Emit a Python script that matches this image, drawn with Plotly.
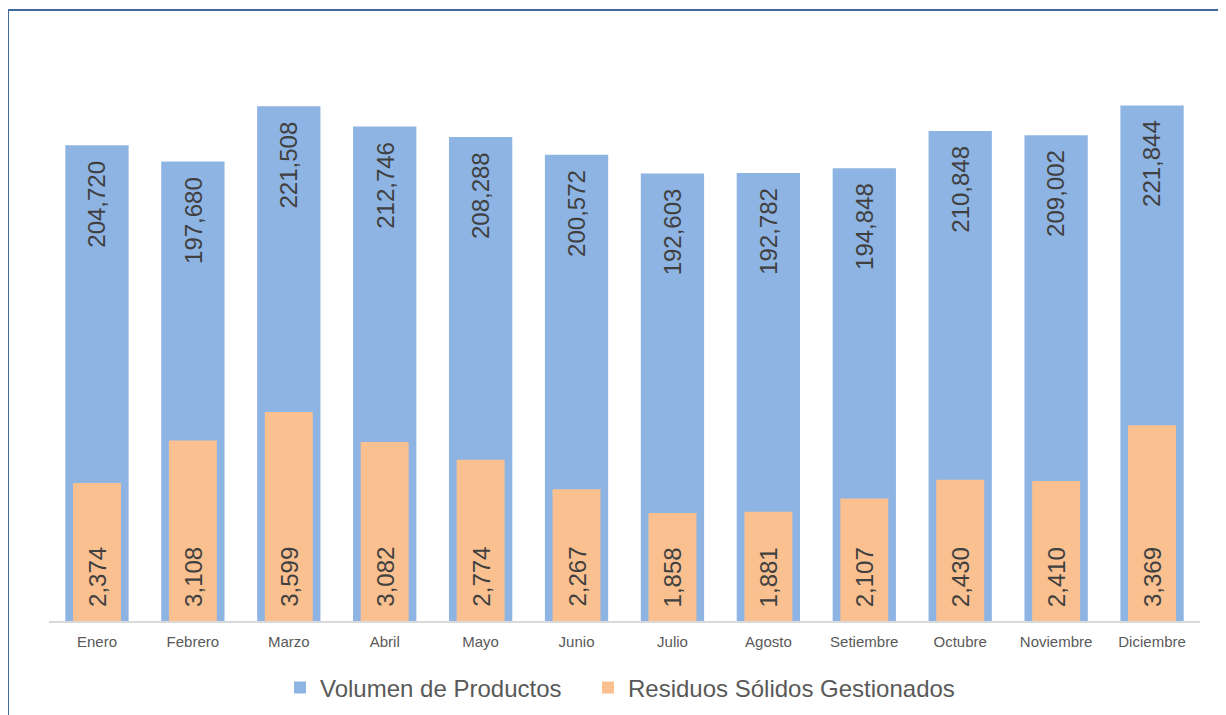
import plotly.graph_objects as go

months = ["Enero", "Febrero", "Marzo", "Abril", "Mayo", "Junio", "Julio",
          "Agosto", "Setiembre", "Octubre", "Noviembre", "Diciembre"]
volumen = [204720, 197680, 221508, 212746, 208288, 200572, 192603,
           192782, 194848, 210848, 209002, 221844]
residuos = [2374, 3108, 3599, 3082, 2774, 2267, 1858, 1881, 2107, 2430, 2410, 3369]

FONT = "Liberation Sans, Arial, sans-serif"
BLUE = "#8eb4e3"
ORANGE = "#fac090"

fig = go.Figure()
fig.add_trace(go.Bar(x=months, y=volumen, name="Volumen de Productos",
                     marker=dict(color=BLUE, line=dict(width=0)),
                     width=0.66, yaxis="y", hoverinfo="x+y", legend="legend"))
fig.add_trace(go.Bar(x=months, y=residuos, name="Residuos Sólidos Gestionados",
                     marker=dict(color=ORANGE, line=dict(width=0)),
                     width=0.5, yaxis="y2", hoverinfo="x+y", legend="legend2"))

annotations = []
for m, v in zip(months, volumen):
    annotations.append(dict(x=m, y=v, xref="x", yref="y", text=f"{v:,}",
                            textangle=-90, showarrow=False, yanchor="top",
                            xanchor="center", yshift=-13,
                            font=dict(family=FONT, size=24, color="#404040")))
for m, v in zip(months, residuos):
    annotations.append(dict(x=m, y=0, xref="x", yref="y2", text=f"{v:,}",
                            textangle=-90, showarrow=False, yanchor="bottom",
                            xanchor="center", yshift=12,
                            font=dict(family=FONT, size=24, color="#404040")))

# page has 8px body margin: figure origin is at (8, 8) in the screenshot
OFF = 8
W, H = 1226 - OFF, 715 - OFF
PL, PR, PT, PB = 49, 1200, 40, 621  # plot area in screenshot pixels
L, R, T, B = PL - OFF, 1226 - PR, PT - OFF, 715 - PB
pw, ph = PR - PL, PB - PT

def px(x):
    return (x - PL) / pw

def py(y):
    return (PB - y) / ph

shapes = [dict(type="rect", xref="paper", yref="paper",
               x0=px(8), x1=px(1240), y0=py(730), y1=py(10),
               line=dict(color="#41689f", width=2), fillcolor="rgba(0,0,0,0)",
               layer="below")]

legend_common = dict(orientation="h", xanchor="left", yanchor="middle",
                     font=dict(size=24, color="#595959"),
                     bgcolor="rgba(0,0,0,0)")

fig.update_layout(
    width=W, height=H,
    margin=dict(l=L, r=R, t=T, b=B, autoexpand=False),
    paper_bgcolor="white", plot_bgcolor="white",
    barmode="overlay",
    font=dict(family=FONT, color="#595959"),
    xaxis=dict(showgrid=False, showline=True, linecolor="#d9d9d9", linewidth=2,
               ticks="", tickfont=dict(size=15, color="#595959"),
               ticklabelstandoff=6, zeroline=False, fixedrange=True),
    yaxis=dict(range=[0, 250000], visible=False, showgrid=False, zeroline=False),
    yaxis2=dict(range=[0, 10000], visible=False, showgrid=False, zeroline=False,
                overlaying="y", side="right"),
    showlegend=True,
    legend=dict(x=px(280), y=py(688), **legend_common),
    legend2=dict(x=px(588), y=py(688), **legend_common),
    annotations=annotations,
    shapes=shapes,
)

fig.write_html("out.html")
